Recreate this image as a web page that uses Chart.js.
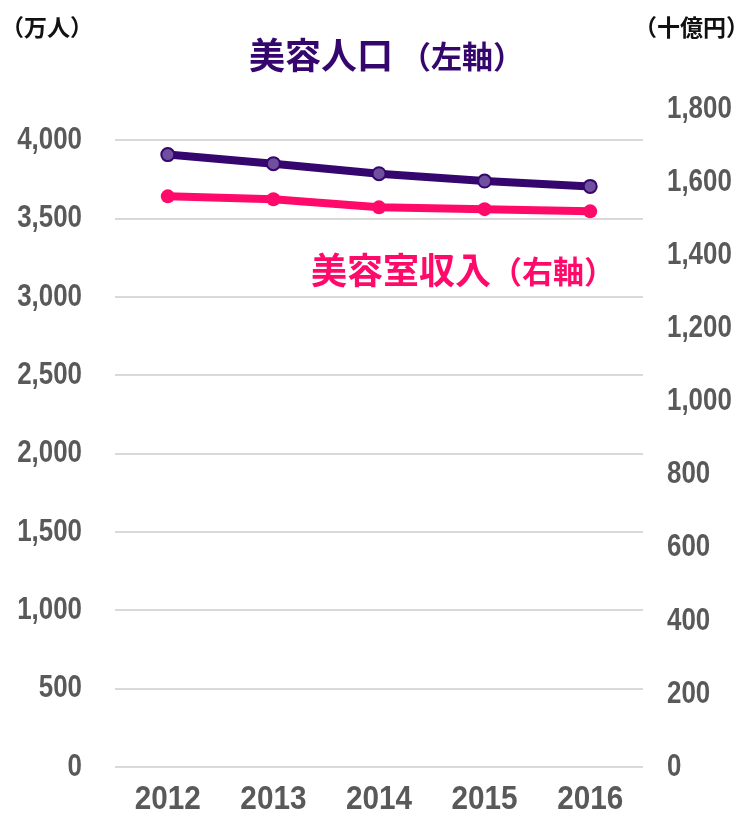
<!DOCTYPE html>
<html lang="ja">
<head>
<meta charset="utf-8">
<title>美容人口と美容室収入</title>
<script src="https://cdn.jsdelivr.net/npm/chart.js@4"></script>
<style>
  html, body { margin: 0; padding: 0; background: #fff; }
  #wrap { width: 745px; height: 817px; }
</style>
</head>
<body>
<div id="wrap"><canvas id="chart" width="745" height="817"></canvas></div>
<script>
// data
const years = ['2012', '2013', '2014', '2015', '2016'];
const beautyPopulation = [3909, 3851, 3787, 3740, 3706];   // 万人, left axis
const salonRevenue = [1561, 1553, 1531, 1526, 1520];       // 十億円, right axis
const leftTicks = [0, 500, 1000, 1500, 2000, 2500, 3000, 3500, 4000];
const leftMax = 4200;
const rightTicks = [0, 200, 400, 600, 800, 1000, 1200, 1400, 1600, 1800];
const rightMax = 1800;

const PURPLE = '#35066d';
const PINK = '#ff0a6a';
const GREY = '#595959';
const NUM_FONT = "'Liberation Sans', Arial, sans-serif";
const JP_FONT = "'Noto Sans CJK JP', 'Noto Sans', sans-serif";

// the number labels are narrow in the original, so they are drawn squeezed
function squeezed(ctx, text, x, y, size, sx, align) {
    ctx.save();
    ctx.translate(x, y);
    ctx.scale(sx, 1);
    ctx.font = `bold ${size}px ${NUM_FONT}`;
    ctx.textAlign = align;
    ctx.textBaseline = 'middle';
    ctx.fillStyle = GREY;
    ctx.fillText(text, 0, 0);
    ctx.restore();
}

const tickLabels = {
    id: 'tickLabels',
    afterDraw(chart) {
        const ctx = chart.ctx;
        const { x, yLeft, yRight } = chart.scales;
        yLeft.ticks.forEach(t => {
            squeezed(ctx, t.value.toLocaleString('en-US'), 82, yLeft.getPixelForValue(t.value), 32, 0.81, 'right');
        });
        yRight.ticks.forEach(t => {
            squeezed(ctx, t.value.toLocaleString('en-US'), 667, yRight.getPixelForValue(t.value), 32, 0.81, 'left');
        });
        years.forEach((yr, i) => {
            squeezed(ctx, yr, x.getPixelForTick(i), 800, 33, 0.9, 'center');
        });
    }
};

// unit captions and series captions
const captions = {
    id: 'captions',
    afterDraw(chart) {
        const ctx = chart.ctx;
        ctx.save();
        ctx.textBaseline = 'middle';
        ctx.fillStyle = '#111';
        ctx.font = `bold 23px ${JP_FONT}`;
        ctx.textAlign = 'left';
        ctx.fillText('（万人）', 1, 27);
        ctx.textAlign = 'right';
        ctx.fillText('（十億円）', 749, 27);

        drawTwoPart(ctx, '美容人口', '（左軸）', 249, 55, PURPLE, 7);
        drawTwoPart(ctx, '美容室収入', '（右軸）', 311, 270, PINK, 0);
        ctx.restore();
    }
};

function drawTwoPart(ctx, big, small, x, y, color, shift) {
    ctx.fillStyle = color;
    ctx.textAlign = 'left';
    ctx.font = `bold 36px ${JP_FONT}`;
    ctx.fillText(big, x, y);
    const w = ctx.measureText(big).width;
    ctx.font = `bold 31px ${JP_FONT}`;
    ctx.fillText(small, x + w + shift, y + 1);
}

const ctx = document.getElementById('chart').getContext('2d');
new Chart(ctx, {
    type: 'line',
    data: {
        labels: years,
        datasets: [{
            label: '美容人口',
            data: beautyPopulation,
            yAxisID: 'yLeft',
            borderColor: PURPLE,
            borderWidth: 8,
            pointRadius: 6.5,
            pointBorderWidth: 2,
            pointBackgroundColor: '#6f4f9e',
            pointBorderColor: PURPLE,
            tension: 0
        }, {
            label: '美容室収入',
            data: salonRevenue,
            yAxisID: 'yRight',
            borderColor: PINK,
            borderWidth: 8,
            pointRadius: 7,
            pointBorderWidth: 0,
            pointBackgroundColor: PINK,
            tension: 0
        }]
    },
    options: {
        responsive: false,
        animation: false,
        layout: { padding: { top: 109, bottom: 0, left: 0, right: 0 } },
        plugins: {
            legend: { display: false },
            tooltip: { enabled: false }
        },
        scales: {
            x: {
                offset: true,
                grid: { display: false },
                border: { display: false },
                ticks: { display: false },
                afterFit(scale) { scale.height = 50; }
            },
            yLeft: {
                position: 'left',
                min: 0,
                max: leftMax,
                grid: { color: '#d9d9d9', lineWidth: 2, drawTicks: false },
                border: { display: false },
                ticks: { display: false },
                afterBuildTicks(scale) {
                    scale.ticks = leftTicks.map(v => ({ value: v }));
                },
                afterFit(scale) { scale.width = 115; }
            },
            yRight: {
                position: 'right',
                min: 0,
                max: rightMax,
                grid: { display: false },
                border: { display: false },
                ticks: { display: false },
                afterBuildTicks(scale) {
                    scale.ticks = rightTicks.map(v => ({ value: v }));
                },
                afterFit(scale) { scale.width = 102; }
            }
        }
    },
    plugins: [tickLabels, captions]
});
</script>
</body>
</html>
